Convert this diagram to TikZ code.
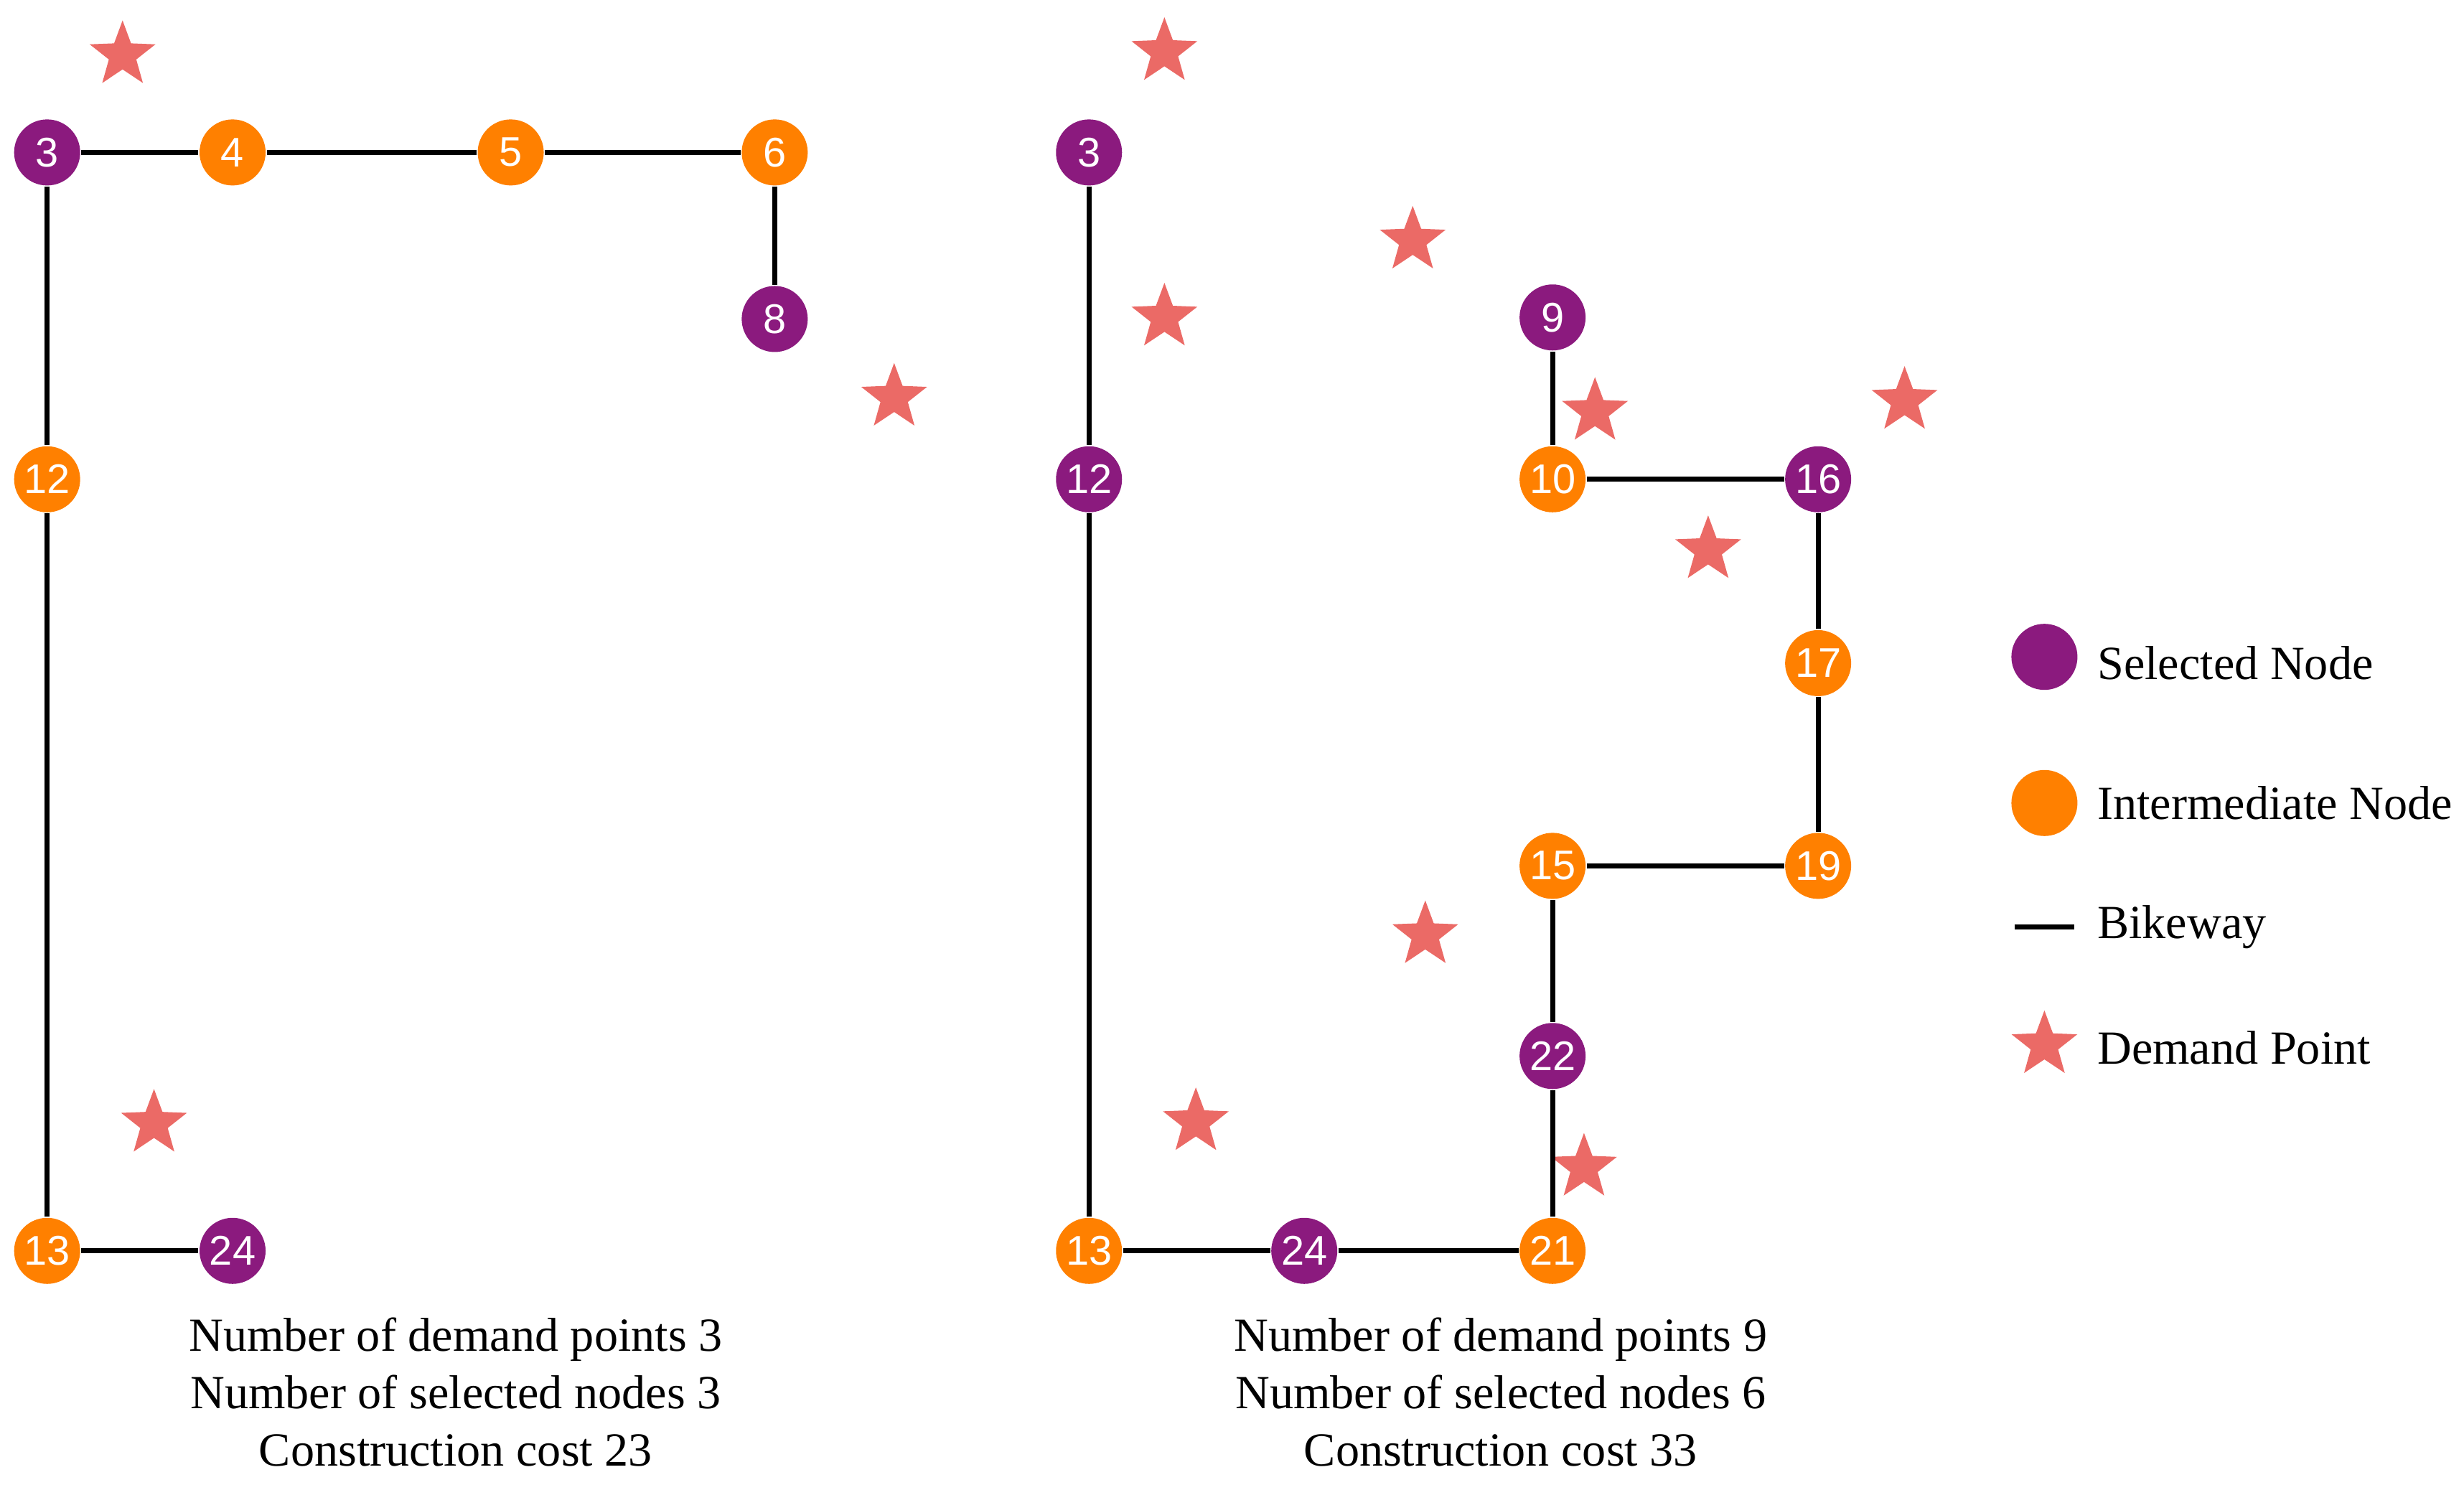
\documentclass[tikz,border=0pt]{standalone}
\usepackage{fontspec}
\setmainfont{Liberation Serif}
\newfontfamily\numfont{Liberation Sans}
\usetikzlibrary{shapes.geometric}
\definecolor{selcol}{HTML}{8B1A7E}
\definecolor{midcol}{HTML}{FF8000}
\definecolor{demcol}{HTML}{EB6A66}
\tikzset{
  sel/.style={circle,fill=selcol,text=white,inner sep=0pt,minimum size=0.42cm,font=\numfont\fontsize{7.5}{8}\selectfont},
  mid/.style={sel,fill=midcol},
  dem/.style={star,star points=5,star point ratio=2.4,fill=demcol,inner sep=0pt,minimum size=0.44cm},
  way/.style={line width=0.9pt,black},
  captext/.style={align=center,font=\fontsize{8.6}{10.4}\selectfont},
  keytext/.style={anchor=west,inner sep=0pt,font=\fontsize{8.6}{10}\selectfont}
}
\begin{document}
\begin{tikzpicture}[x=0.01cm,y=-0.01cm]
\useasboundingbox (0,0) rectangle (1568,945);
% left network
\foreach \n/\s/\x/\y in {3/sel/30/97,4/mid/148/97,5/mid/325/97,6/mid/493/97,
  8/sel/493/203,12/mid/30/305,13/mid/30/796,24/sel/148/796}
  \node[\s] (l\n) at (\x,\y) {\n};
\foreach \i/\x/\y in {1/78/35,2/569/253,3/98/715}
  \node[dem] (ld\i) at (\x,\y) {};
\draw[way] (l3) -- (l4);
\draw[way] (l4) -- (l5);
\draw[way] (l5) -- (l6);
\draw[way] (l6) -- (l8);
\draw[way] (l3) -- (l12);
\draw[way] (l12) -- (l13);
\draw[way] (l13) -- (l24);
% right network
\foreach \n/\s/\x/\y in {3/sel/693/97,12/sel/693/305,13/mid/693/796,24/sel/830/796,
  21/mid/988/796,22/sel/988/672,15/mid/988/551,19/mid/1157/551,17/mid/1157/422,
  16/sel/1157/305,10/mid/988/305,9/sel/988/202}
  \node[\s] (r\n) at (\x,\y) {\n};
\foreach \i/\x/\y in {1/741/33,2/899/153,3/741/202,4/1015/262,5/1212/255,
  6/1087/350,7/907/595,8/761/714,9/1008/743}
  \node[dem] (rd\i) at (\x,\y) {};
\draw[way] (r3) -- (r12);
\draw[way] (r12) -- (r13);
\draw[way] (r13) -- (r24);
\draw[way] (r24) -- (r21);
\draw[way] (r21) -- (r22);
\draw[way] (r22) -- (r15);
\draw[way] (r15) -- (r19);
\draw[way] (r19) -- (r17);
\draw[way] (r17) -- (r16);
\draw[way] (r16) -- (r10);
\draw[way] (r10) -- (r9);
% captions
\node[captext] (lcap) at (290,886) {Number of demand points 3\\Number of selected nodes 3\\Construction cost 23};
\node[captext] (rcap) at (955,886) {Number of demand points 9\\Number of selected nodes 6\\Construction cost 33};
% legend
\node[sel] (k1) at (1301,418) {};
\node[keytext] (t1) at (1334,422) {Selected Node};
\node[mid] (k2) at (1301,511) {};
\node[keytext] (t2) at (1334,511) {Intermediate Node};
\coordinate (k3a) at (1282,590);
\coordinate (k3b) at (1320,590);
\draw[way] (k3a) -- (k3b);
\node[keytext] (t3) at (1334,590) {Bikeway};
\node[dem] (k4) at (1301,665) {};
\node[keytext] (t4) at (1334,667) {Demand Point};
\end{tikzpicture}
\end{document}
